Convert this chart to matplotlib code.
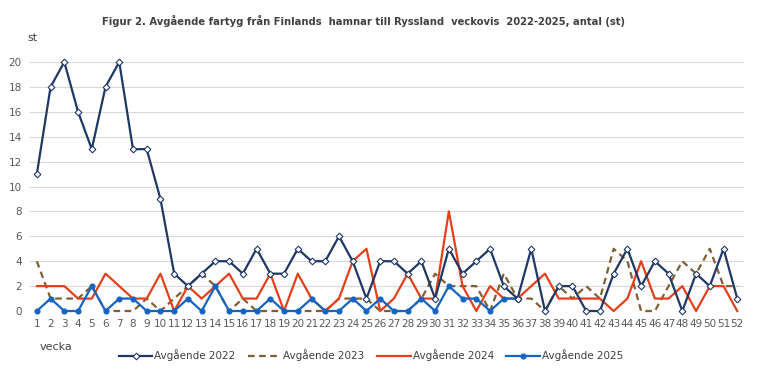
import numpy as np
import matplotlib.pyplot as plt

weeks = list(range(1, 53))

# avgående fartyg per vecka
y2022 = [11, 18, 20, 16, 13, 18, 20, 13, 13, 9, 3, 2, 3, 4, 4, 3, 5, 3, 3, 5,
         4, 4, 6, 4, 1, 4, 4, 3, 4, 1, 5, 3, 4, 5, 2, 1, 5, 0, 2, 2,
         0, 0, 3, 5, 2, 4, 3, 0, 3, 2, 5, 1]
y2023 = [4, 1, 1, 1, 2, 0, 0, 0, 1, 0, 1, 2, 3, 2, 0, 1, 0, 0, 0, 0,
         0, 0, 1, 1, 1, 0, 0, 0, 1, 3, 2, 2, 2, 0, 3, 1, 1, 0, 2, 1,
         2, 1, 5, 4, 0, 0, 2, 4, 3, 5, 2, 2]
y2024 = [2, 2, 2, 1, 1, 3, 2, 1, 1, 3, 0, 2, 1, 2, 3, 1, 1, 3, 0, 3,
         1, 0, 1, 4, 5, 0, 1, 3, 1, 1, 8, 2, 0, 2, 1, 1, 2, 3, 1, 1,
         1, 1, 0, 1, 4, 1, 1, 2, 0, 2, 2, 0]
y2025 = [0, 1, 0, 0, 2, 0, 1, 1, 0, 0, 0, 1, 0, 2, 0, 0, 0, 1, 0, 0,
         1, 0, 0, 1, 0, 1, 0, 0, 1, 0, 2, 1, 1, 0, 1, 1]

fig = plt.figure(figsize=(7.57, 3.78), dpi=100)
ax = fig.add_axes([0.0396, 0.1772, 0.9434, 0.6588])

ax.plot(weeks, y2022, color='#1f3864', lw=1.6, marker='D', ms=3.4,
        mfc='white', mec='#1f3864', mew=0.8, label='Avgående 2022', zorder=5, clip_on=False)
ax.plot(weeks, y2023, color='#7f5f33', lw=1.6, ls=(0, (3, 2)), label='Avgående 2023', zorder=3, clip_on=False)
ax.plot(weeks, y2024, color='#e4401c', lw=1.6, label='Avgående 2024', zorder=4, clip_on=False)
ax.plot(weeks[:len(y2025)], y2025, color='#1565c0', lw=1.6, marker='o', ms=3.4,
        label='Avgående 2025', zorder=4, clip_on=False)

ax.set_xlim(0.5, 52.5)
ax.set_ylim(0, 20)
ax.set_yticks(np.arange(0, 21, 2))
ax.set_xticks(weeks)
ax.grid(axis='y', color='#d9d9d9', lw=0.8)
ax.set_axisbelow(True)
for s in ax.spines.values():
    s.set_visible(False)
ax.tick_params(length=0, labelsize=7.5, labelcolor='#595959')
ax.tick_params(axis='x', pad=6)
ax.tick_params(axis='y', pad=6)

fig.text(0.48, 0.945, 'Figur 2. Avgående fartyg från Finlands  hamnar till Ryssland  veckovis  2022-2025, antal (st)',
         ha='center', va='center', fontsize=7.2, fontweight='bold', color='#404040',
         family=['Liberation Sans Narrow', 'DejaVu Sans'])
fig.text(0.036, 0.9, 'st', fontsize=8, color='#404040', ha='left', va='center')
fig.text(0.052, 0.082, 'vecka', fontsize=8, color='#404040', ha='left', va='center')

fig.legend(loc='center', bbox_to_anchor=(0.49, 0.06), ncol=4, frameon=False,
           fontsize=7.5, handlelength=3.2, columnspacing=1.2, handletextpad=0.2,
           labelcolor='#404040')

fig.savefig('out.png', dpi=100)
